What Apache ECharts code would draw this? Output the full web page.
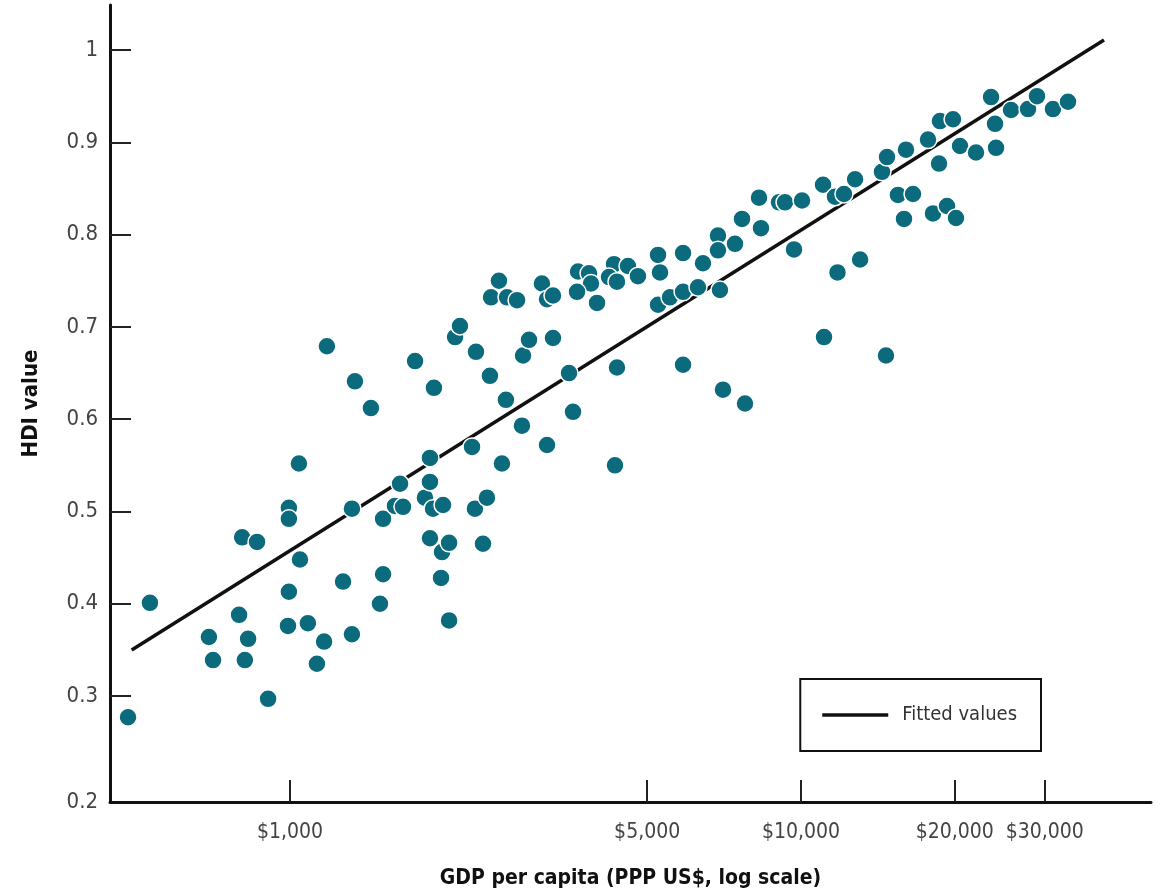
<!DOCTYPE html>
<html>
<head>
<meta charset="utf-8">
<script src="https://cdn.jsdelivr.net/npm/echarts@6/dist/echarts.min.js"></script>
<style>
  html, body { margin: 0; padding: 0; background: #ffffff; }
  #chart { width: 1163px; height: 896px; }
</style>
</head>
<body>
<div id="chart"></div>
<script>
// GDP per capita (PPP US$)
const gdpPerCapita = [
  482, 532, 694, 707, 795, 806, 862, 828, 816, 906,
  995, 995, 995, 991, 1041, 1046, 1084, 1129, 1166, 1181,
  1270, 1322, 1322, 1340, 1440, 1500, 1521, 1521, 1642, 1605,
  1664, 1757, 1837, 1879, 1879, 1879, 1913, 1905, 1975, 1984,
  1993, 2048, 2048, 2104, 2151, 2271, 2301, 2312, 2386, 2429,
  2462, 2474, 2564, 2599, 2646, 2659, 2782, 2844, 2858, 2936,
  3112, 3184, 3271, 3184, 3271, 3516, 3580, 3662, 3847, 3882,
  3645, 3989, 4306, 4210, 4364, 4325, 4364, 4586, 4797, 5251,
  5298, 5251, 5541, 5877, 5877, 5877, 6286, 6430, 6879, 6879,
  7428, 6941, 7036, 7666, 7770, 8350, 8276, 9055, 9305, 9690,
  10046, 11043, 11093, 11788, 11655, 12137, 13050, 12759, 14404, 14734,
  14666, 15480, 15906, 16050, 16565, 17723, 18127, 18626, 18707, 19307,
  19839, 20106, 20476, 22004, 23545, 23972, 24082, 25763, 27814, 28963,
  31122, 33305
];
// HDI value
const hdiValue = [
  0.277, 0.401, 0.364, 0.339, 0.388, 0.472, 0.467, 0.362, 0.339, 0.297,
  0.504, 0.492, 0.413, 0.376, 0.552, 0.448, 0.379, 0.335, 0.359, 0.679,
  0.424, 0.503, 0.367, 0.641, 0.612, 0.400, 0.432, 0.492, 0.530, 0.506,
  0.505, 0.663, 0.515, 0.532, 0.558, 0.471, 0.634, 0.503, 0.428, 0.456,
  0.507, 0.382, 0.466, 0.689, 0.701, 0.570, 0.503, 0.673, 0.465, 0.515,
  0.647, 0.732, 0.750, 0.552, 0.621, 0.732, 0.729, 0.593, 0.669, 0.686,
  0.747, 0.730, 0.734, 0.572, 0.688, 0.650, 0.608, 0.760, 0.758, 0.747,
  0.738, 0.726, 0.768, 0.754, 0.749, 0.550, 0.656, 0.766, 0.755, 0.778,
  0.759, 0.724, 0.732, 0.738, 0.780, 0.659, 0.743, 0.769, 0.799, 0.783,
  0.790, 0.740, 0.632, 0.817, 0.617, 0.807, 0.840, 0.835, 0.835, 0.784,
  0.837, 0.854, 0.689, 0.759, 0.841, 0.844, 0.773, 0.860, 0.868, 0.884,
  0.669, 0.843, 0.817, 0.892, 0.844, 0.903, 0.823, 0.877, 0.923, 0.831,
  0.925, 0.818, 0.896, 0.889, 0.949, 0.920, 0.894, 0.935, 0.936, 0.950,
  0.936, 0.944
];
// Fitted line end points
const fitGdp = [490, 39170];
const fitHdi = [0.3498, 1.0108];

// Axis ticks and labels
const xTickValues = [1000, 5000, 10000, 20000, 30000];
const xTickLabels = ['$1,000', '$5,000', '$10,000', '$20,000', '$30,000'];
const yTickValues = [0.3, 0.4, 0.5, 0.6, 0.7, 0.8, 0.9, 1.0];
const yLabelValues = [0.1852, 0.3, 0.4, 0.5, 0.6, 0.7, 0.8, 0.9, 1.0];
const yLabelTexts = ['0.2', '0.3', '0.4', '0.5', '0.6', '0.7', '0.8', '0.9', '1'];

const xMin = 444.4, xMax = 48410;
const yMin = 0.1852, yMax = 1.0488;

const FONT = "'Liberation Sans Narrow', 'DejaVu Sans Condensed', sans-serif";
const TEAL = '#0b6b7d';

const scatterData = gdpPerCapita.map((g, i) => [g, hdiValue[i]]);
const fitData = fitGdp.map((g, i) => [g, fitHdi[i]]);

const chart = echarts.init(document.getElementById('chart'), null, { renderer: 'canvas' });
chart.setOption({
  backgroundColor: '#ffffff',
  animation: false,
  grid: { left: 110, right: 12, top: 5, bottom: 94, containLabel: false, outerBoundsMode: 'none' },
  legend: {
    right: 1163 - 1041,
    top: 679,
    orient: 'vertical',
    data: [{ name: 'Fitted values', icon: 'rect' }],
    backgroundColor: '#ffffff',
    borderColor: '#111111',
    borderWidth: 2,
    borderRadius: 0,
    padding: [22, 24, 22, 22],
    itemWidth: 66,
    itemHeight: 3.5,
    selectedMode: false,
    itemStyle: { color: '#111111', borderWidth: 0 },
    textStyle: { fontFamily: FONT, fontSize: 20, color: '#333333', lineHeight: 28, padding: [0, 0, 0, 9] }
  },
  xAxis: {
    type: 'log',
    logBase: 10,
    min: xMin,
    max: xMax,
    name: 'GDP per capita (PPP US$, log scale)',
    nameLocation: 'middle',
    nameGap: 66,
    nameTextStyle: { fontFamily: FONT, fontSize: 21, fontWeight: 'bold', color: '#111111' },
    axisLine: { show: true, lineStyle: { color: '#111111', width: 3 } },
    axisTick: { show: true, inside: true, length: 22, customValues: xTickValues, lineStyle: { color: '#222222', width: 2 } },
    axisLabel: {
      show: true, margin: 20, customValues: xTickValues, hideOverlap: false,
      fontFamily: FONT, fontSize: 21, color: '#444444',
      formatter: function (v) {
        const idx = xTickValues.findIndex(t => Math.abs(t - v) / t < 1e-6);
        return idx >= 0 ? xTickLabels[idx] : '';
      }
    },
    splitLine: { show: false },
    minorTick: { show: false }
  },
  yAxis: {
    type: 'value',
    min: yMin,
    max: yMax,
    name: 'HDI value',
    nameLocation: 'middle',
    nameGap: 68,
    nameTextStyle: { fontFamily: FONT, fontSize: 22, fontWeight: 'bold', color: '#111111' },
    axisLine: { show: true, lineStyle: { color: '#111111', width: 3 } },
    axisTick: { show: true, inside: true, length: 21, customValues: yTickValues, lineStyle: { color: '#222222', width: 2 } },
    axisLabel: {
      show: true, margin: 12, customValues: yLabelValues,
      fontFamily: FONT, fontSize: 22, color: '#444444',
      formatter: function (v) {
        let best = 0, bd = Infinity;
        yLabelValues.forEach((t, i) => { const d = Math.abs(t - v); if (d < bd) { bd = d; best = i; } });
        return yLabelTexts[best];
      }
    },
    splitLine: { show: false }
  },
  series: [
    {
      name: 'Fitted values',
      type: 'line',
      data: fitData,
      showSymbol: false,
      symbol: 'none',
      lineStyle: { color: '#111111', width: 3.5 },
      itemStyle: { color: '#111111' },
      z: 1
    },
    {
      name: 'HDI',
      type: 'scatter',
      data: scatterData,
      symbol: 'circle',
      symbolSize: 18,
      itemStyle: { color: TEAL, borderColor: '#ffffff', borderWidth: 1.5, opacity: 1 },
      z: 2
    }
  ]
});
</script>
</body>
</html>
